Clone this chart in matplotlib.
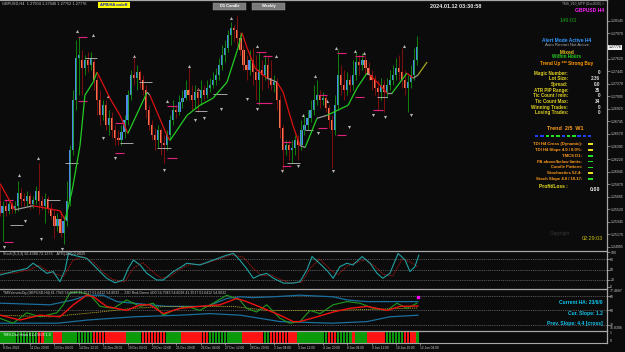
import matplotlib
matplotlib.use("Agg")
import matplotlib.pyplot as plt
import numpy as np
from matplotlib.collections import LineCollection
from matplotlib.patches import Rectangle

W, H = 625, 352
BG = "#0b0b0b"
GRID = "#a8a8a8"
TXT = "#c8c8c8"
BULL, BEAR = "#4a8ce6", "#f07650"
WICK_UP, WICK_DN = "#10a010", "#a01010"
PINK = "#e0207a"

# --- price bars (H4 bar index 1..138) ---
bars = np.arange(1, 139)
opens = [
    1.2564, 1.2547, 1.2557, 1.2550, 1.2560, 1.2553, 1.2556, 1.2575, 1.2567, 1.2564,
    1.2570, 1.2560, 1.2565, 1.2578, 1.2564, 1.2557, 1.2567, 1.2553, 1.2543, 1.2529,
    1.2539, 1.2519, 1.2536, 1.2564, 1.2634, 1.2704, 1.2763, 1.2760, 1.2749, 1.2760,
    1.2753, 1.2757, 1.2732, 1.2704, 1.2683, 1.2697, 1.2669, 1.2679, 1.2662, 1.2651,
    1.2648, 1.2659, 1.2676, 1.2711, 1.2739, 1.2735, 1.2743, 1.2732, 1.2718, 1.2690,
    1.2669, 1.2655, 1.2648, 1.2662, 1.2645, 1.2641, 1.2655, 1.2676, 1.2690, 1.2687,
    1.2701, 1.2707, 1.2718, 1.2711, 1.2704, 1.2715, 1.2707, 1.2718, 1.2711, 1.2721,
    1.2725, 1.2732, 1.2739, 1.2753, 1.2767, 1.2777, 1.2795, 1.2805, 1.2802, 1.2791,
    1.2774, 1.2753, 1.2746, 1.2760, 1.2743, 1.2732, 1.2746, 1.2739, 1.2753, 1.2735,
    1.2725, 1.2729, 1.2704, 1.2665, 1.2634, 1.2641, 1.2634, 1.2637, 1.2648, 1.2641,
    1.2662, 1.2669, 1.2679, 1.2690, 1.2704, 1.2711, 1.2704, 1.2707, 1.2693, 1.2676,
    1.2662, 1.2697, 1.2739, 1.2725, 1.2718, 1.2732, 1.2725, 1.2739, 1.2757, 1.2753,
    1.2760, 1.2749, 1.2739, 1.2732, 1.2721, 1.2715, 1.2725, 1.2715, 1.2725, 1.2732,
    1.2739, 1.2749, 1.2743, 1.2732, 1.2721, 1.2729, 1.2739, 1.2760,
]
highs = [
    1.2585, 1.2564, 1.2567, 1.2564, 1.2563, 1.2564, 1.2592, 1.2581, 1.2575, 1.2578,
    1.2574, 1.2571, 1.2585, 1.2616, 1.2571, 1.2575, 1.2571, 1.2561, 1.2553, 1.2547,
    1.2550, 1.2543, 1.2592, 1.2641, 1.2718, 1.2788, 1.2792, 1.2774, 1.2767, 1.2771,
    1.2771, 1.2763, 1.2739, 1.2718, 1.2704, 1.2704, 1.2690, 1.2687, 1.2669, 1.2662,
    1.2669, 1.2683, 1.2718, 1.2746, 1.2764, 1.2753, 1.2746, 1.2739, 1.2725, 1.2697,
    1.2676, 1.2665, 1.2669, 1.2665, 1.2655, 1.2662, 1.2683, 1.2704, 1.2697, 1.2711,
    1.2718, 1.2732, 1.2749, 1.2725, 1.2725, 1.2721, 1.2732, 1.2725, 1.2732, 1.2735,
    1.2743, 1.2749, 1.2763, 1.2781, 1.2788, 1.2802, 1.2813, 1.2809, 1.2823, 1.2799,
    1.2781, 1.2767, 1.2774, 1.2777, 1.2767, 1.2771, 1.2760, 1.2767, 1.2767, 1.2760,
    1.2739, 1.2735, 1.2711, 1.2669, 1.2648, 1.2648, 1.2648, 1.2655, 1.2655, 1.2676,
    1.2683, 1.2690, 1.2704, 1.2725, 1.2732, 1.2718, 1.2715, 1.2711, 1.2697, 1.2683,
    1.2711, 1.2774, 1.2753, 1.2746, 1.2743, 1.2739, 1.2760, 1.2771, 1.2767, 1.2770,
    1.2767, 1.2757, 1.2746, 1.2739, 1.2732, 1.2735, 1.2732, 1.2735, 1.2746, 1.2753,
    1.2763, 1.2767, 1.2777, 1.2746, 1.2739, 1.2753, 1.2777, 1.2794,
]
lows = [
    1.2543, 1.2508, 1.2543, 1.2546, 1.2547, 1.2547, 1.2550, 1.2557, 1.2556, 1.2557,
    1.2553, 1.2554, 1.2560, 1.2546, 1.2551, 1.2533, 1.2547, 1.2539, 1.2512, 1.2522,
    1.2514, 1.2504, 1.2529, 1.2557, 1.2627, 1.2690, 1.2711, 1.2711, 1.2739, 1.2743,
    1.2746, 1.2718, 1.2683, 1.2669, 1.2676, 1.2662, 1.2655, 1.2651, 1.2641, 1.2641,
    1.2641, 1.2651, 1.2669, 1.2704, 1.2725, 1.2718, 1.2721, 1.2711, 1.2679, 1.2662,
    1.2648, 1.2634, 1.2637, 1.2627, 1.2616, 1.2634, 1.2648, 1.2669, 1.2679, 1.2683,
    1.2693, 1.2704, 1.2704, 1.2690, 1.2693, 1.2687, 1.2697, 1.2704, 1.2707, 1.2715,
    1.2721, 1.2725, 1.2732, 1.2746, 1.2757, 1.2771, 1.2781, 1.2785, 1.2781, 1.2767,
    1.2746, 1.2732, 1.2739, 1.2725, 1.2704, 1.2697, 1.2718, 1.2732, 1.2721, 1.2718,
    1.2715, 1.2690, 1.2651, 1.2607, 1.2627, 1.2620, 1.2617, 1.2627, 1.2620, 1.2634,
    1.2655, 1.2662, 1.2673, 1.2683, 1.2697, 1.2693, 1.2697, 1.2687, 1.2665, 1.2610,
    1.2655, 1.2690, 1.2711, 1.2704, 1.2711, 1.2715, 1.2718, 1.2732, 1.2739, 1.2746,
    1.2739, 1.2732, 1.2718, 1.2711, 1.2690, 1.2704, 1.2687, 1.2707, 1.2718, 1.2725,
    1.2732, 1.2732, 1.2721, 1.2711, 1.2687, 1.2721, 1.2732, 1.2753,
]
closes = [
    1.2547, 1.2557, 1.2550, 1.2560, 1.2553, 1.2556, 1.2575, 1.2567, 1.2564, 1.2570,
    1.2560, 1.2565, 1.2578, 1.2564, 1.2557, 1.2567, 1.2553, 1.2543, 1.2529, 1.2539,
    1.2519, 1.2536, 1.2564, 1.2634, 1.2704, 1.2763, 1.2767, 1.2749, 1.2760, 1.2753,
    1.2763, 1.2732, 1.2704, 1.2683, 1.2697, 1.2669, 1.2679, 1.2662, 1.2651, 1.2648,
    1.2659, 1.2676, 1.2711, 1.2739, 1.2735, 1.2743, 1.2732, 1.2718, 1.2690, 1.2669,
    1.2655, 1.2648, 1.2662, 1.2645, 1.2641, 1.2655, 1.2676, 1.2690, 1.2687, 1.2701,
    1.2707, 1.2718, 1.2711, 1.2704, 1.2715, 1.2707, 1.2718, 1.2711, 1.2721, 1.2725,
    1.2732, 1.2739, 1.2753, 1.2767, 1.2777, 1.2795, 1.2805, 1.2802, 1.2791, 1.2774,
    1.2753, 1.2746, 1.2760, 1.2743, 1.2732, 1.2746, 1.2739, 1.2753, 1.2735, 1.2725,
    1.2729, 1.2704, 1.2665, 1.2634, 1.2641, 1.2634, 1.2637, 1.2648, 1.2641, 1.2662,
    1.2669, 1.2679, 1.2690, 1.2704, 1.2711, 1.2704, 1.2707, 1.2693, 1.2676, 1.2662,
    1.2697, 1.2739, 1.2725, 1.2718, 1.2732, 1.2725, 1.2739, 1.2757, 1.2753, 1.2760,
    1.2749, 1.2739, 1.2732, 1.2721, 1.2715, 1.2725, 1.2715, 1.2725, 1.2732, 1.2739,
    1.2749, 1.2743, 1.2732, 1.2721, 1.2729, 1.2739, 1.2760, 1.2778,
]

# trend line (bar index, price)
ma_idx = [1.2, 6, 12, 20.8, 22.5, 24.8, 27.4, 29, 31.7, 33, 37.2, 40.5, 43.1, 49.4, 50.3,
          55.9, 56.9, 62.5, 66.7, 71, 75.6, 79.2, 80.5, 82.2, 84.8, 88.7, 92, 94, 97.2,
          99.5, 101.2, 105.1, 108.4, 115.3, 118.2, 121.5, 122.5, 125.8, 128, 129.7, 134.6,
          136.6, 138.2]
ma_val = [1.25877, 1.25513, 1.25569, 1.25499, 1.25373, 1.25779, 1.26409, 1.27109, 1.27291,
          1.27431, 1.27067, 1.26829, 1.26577, 1.27151, 1.27109, 1.26549, 1.26479, 1.26829,
          1.26969, 1.27067, 1.27291, 1.27767, 1.27977, 1.27767, 1.27487, 1.27347, 1.27291,
          1.27151, 1.26689, 1.26409, 1.26381, 1.26787, 1.26829, 1.26969, 1.27207, 1.27417,
          1.27389, 1.27249, 1.27137, 1.27137, 1.27417, 1.27347, 1.27389]
ma_ext = (141.2, 1.27571)

# fractal arrows
up_idx = [7.5, 13.5, 26.5, 31.5, 36.5, 45, 56, 63, 66, 77, 85.5, 91.5, 100.5, 104.5, 108.5,
          111.5, 117.5, 120.5, 133.5]
up_px = [1.2598, 1.2622, 1.2798, 1.2793, 1.2708, 1.2764, 1.2701, 1.2749, 1.2718, 1.2816,
         1.2777, 1.2764, 1.2682, 1.2735, 1.2701, 1.2775, 1.2771, 1.2768, 1.2778]
dn_idx = [2.5, 9.5, 14.5, 21.5, 35, 39, 55, 65, 68, 73.5, 82, 85.5, 93.5, 99, 105.5, 110.5,
          115.5, 123.5, 127.5, 136]
dn_px = [1.2502, 1.2537, 1.2513, 1.2499, 1.2653, 1.2626, 1.2609, 1.2679, 1.2681, 1.2693,
         1.2708, 1.2694, 1.2608, 1.2614, 1.2660, 1.2608, 1.2669, 1.2685, 1.2682, 1.2686]

# swing levels (start, end, price)
pink_lv = [(2.5, 5.4, 1.2565), (2.5, 5.4, 1.2506), (26.7, 29.7, 1.2792), (26.7, 29.7, 1.2703),
           (38.9, 41.8, 1.2672), (38.9, 41.8, 1.2630), (55.9, 59.2, 1.2696), (55.9, 59.2, 1.2623),
           (85.1, 88.4, 1.2771), (87.4, 90.3, 1.2765), (85.1, 90.3, 1.2700), (93.6, 96.6, 1.2646),
           (93.6, 96.6, 1.2612), (105.4, 108.4, 1.2711), (105.4, 108.4, 1.2665),
           (111.7, 114.6, 1.2770), (111.7, 114.6, 1.2655), (117.6, 120.5, 1.2765),
           (117.6, 120.5, 1.2708), (123.5, 126.7, 1.2690)]
gray_lv = [(29, 33, 1.2763), (40.5, 44.8, 1.2644), (46.7, 51, 1.2729), (65.1, 69, 1.2689),
           (71, 75.6, 1.2713), (4.4, 8.7, 1.2530), (16.5, 20.8, 1.2565), (22.5, 26.7, 1.2616),
           (52.6, 57.2, 1.2637), (95.3, 99.5, 1.2616), (101.2, 103.8, 1.2662),
           (124.8, 128, 1.2708)]

price_ticks = [1.28145, 1.27970, 1.27620, 1.27445, 1.27270, 1.27095, 1.26920, 1.26745,
               1.26570, 1.26395, 1.26220, 1.26045, 1.25870, 1.25695, 1.25520, 1.25345,
               1.25170, 1.24995]
last_price = 1.27776

# stochastic (bar index, value)
k_idx = [1, 5.5, 10, 12, 13.7, 16.5, 18.6, 20.8, 22.5, 23.6, 25.2, 29.6, 32.9, 36.1, 38.9,
         41.6, 43.2, 44.9, 47.1, 49.3, 52.5, 54.7, 58, 60.7, 62.4, 66.7, 71.1, 75.5, 77.7,
         79.8, 82, 84.2, 86.4, 88.6, 90.8, 94.1, 97.3, 99.5, 101.8, 103.5, 105.4, 107.1,
         108.7, 110.4, 112.6, 114.9, 116.9, 119.9, 122.5, 124.8, 126.7, 129, 131.7, 134,
         135.6, 137.2, 138.5]
k_val = [34, 44, 53, 68, 58, 39, 44, 15, 49, 96, 91, 82, 53, 25, 12, 20, 53, 77, 63, 39, 20,
         20, 44, 58, 68, 63, 77, 91, 96, 77, 53, 25, 34, 39, 25, 11, 11, 15, 49, 87, 72, 58,
         44, 25, 58, 68, 63, 87, 68, 39, 25, 39, 96, 77, 44, 58, 91]
d_idx = [1, 6, 11, 14, 17, 20, 22, 25, 28, 32, 35, 38, 42, 45, 48, 51, 54, 57, 60, 63, 68,
         73, 77, 81, 84, 87, 90, 93, 96, 100, 103, 106, 108, 110, 112, 115, 118, 121, 124,
         127, 130, 133, 136, 138]
d_val = [40, 40, 50, 62, 45, 35, 30, 75, 88, 70, 42, 22, 15, 55, 70, 45, 25, 30, 50, 63, 66,
         80, 92, 85, 55, 32, 35, 22, 12, 13, 55, 80, 62, 45, 35, 60, 70, 78, 60, 35, 32, 80,
         70, 58]

# TMS / TDI panel (bar index, value)
red_idx = [1.2, 7.7, 14.3, 20.8, 25.2, 29.6, 31.8, 36.1, 42.7, 47.1, 50.3, 54.7, 60.2, 66.7,
           73.3, 78.8, 82, 87.5, 93, 97.3, 99.5, 105.1, 110.4, 115.9, 121.5, 128.1, 132.3,
           138.2]
red_val = [44, 38, 44, 42, 57, 69, 67, 55, 50, 57, 57, 46, 52.6, 55, 57, 65, 61, 52.6, 44, 36,
           36, 42, 48, 52.6, 55, 50, 55, 55.5]
grn_idx = [1.2, 5.5, 9.9, 14.3, 19.8, 21.9, 24.1, 27.4, 30.7, 34, 38.3, 42.7, 47.1, 51.4,
           54.7, 58, 62.4, 66.7, 71.1, 75.5, 79.8, 82, 85.3, 88.6, 93, 96.2, 99.5, 102.8,
           106.1, 110.4, 114.9, 119.2, 123.5, 128.1, 131.3, 134.6, 137.9]
grn_val = [40, 34, 47, 42, 47, 57, 72, 73, 69, 55, 52.6, 63, 55, 59, 44, 50, 55, 50, 59, 69,
           63, 52.6, 48, 57, 40, 34, 36, 50, 46, 57, 61, 59, 52.6, 50, 59, 52.6, 59]
upb_idx = [1.2, 17.6, 25, 30, 35, 39.5, 44.8, 50.3, 55.9, 69, 75.6, 79.8, 84, 90.7, 99.5,
           110.4, 115, 121.5, 131, 138.2]
upb_val = [59, 57, 63, 69, 69, 61, 59, 57, 55, 55, 65, 67, 66, 67, 69, 67, 63, 61, 61, 61]
lob_idx = [1.2, 20, 30, 45, 60, 70, 80, 93, 110, 121.5, 129, 138.2]
lob_val = [34, 34, 38, 42, 44, 46, 44, 36, 34, 36, 42, 44]
base_idx = [1.2, 17.5, 34, 44.8, 55.9, 66.7, 77.6, 88.7, 99.5, 110.4, 138.2]
base_val = [44, 42, 48, 52.6, 55, 55, 55, 50, 50, 50, 53]

# Heiken Ashi histogram runs (length, colour), bars 1..138
hist_len = [13, 2, 3, 3, 10, 11, 5, 8, 5, 9, 11, 7, 2, 9, 10, 3, 5, 1, 4, 6, 6, 4, 1]
hist_col = ["g", "r", "g", "r", "g", "r", "g", "r", "g", "r", "g", "r", "g", "r", "g", "r",
            "g", "r", "g", "r", "g", "r", "g"]

time_idx = [2, 11, 19, 27, 35, 43, 51, 59, 67, 75, 83, 91, 99, 107, 115, 123, 131, 139]
time_lab = ["8 Dec 2023", "11 Dec 20:00", "13 Dec 04:00", "14 Dec 12:00", "15 Dec 20:00",
            "19 Dec 04:00", "20 Dec 12:00", "21 Dec 20:00", "26 Dec 04:00", "27 Dec 12:00",
            "28 Dec 20:00", "2 Jan 04:00", "3 Jan 12:00", "4 Jan 20:00", "8 Jan 04:00",
            "9 Jan 12:00", "10 Jan 20:00", "12 Jan 04:00"]

plt.rcParams["font.family"] = ["Liberation Sans", "DejaVu Sans"]
fig = plt.figure(figsize=(W / 100, H / 100), dpi=100, facecolor=BG)

RIGHT = 607
AXFS = 2.5


def panel(top, bottom):
    ax = fig.add_axes([0, 1 - bottom / H, RIGHT / W, (bottom - top) / H])
    ax.set_facecolor(BG)
    for s in ("left", "bottom"):
        ax.spines[s].set_visible(False)
    for s in ("top", "right"):
        ax.spines[s].set_color(GRID)
        ax.spines[s].set_linewidth(0.9)
    ax.set_xlim(1.16, 200.2)
    ax.set_xticks([])
    ax.yaxis.tick_right()
    ax.tick_params(axis="y", colors=GRID, labelcolor=TXT, labelsize=AXFS, length=1.8, width=0.5,
                   pad=0.6)
    return ax


def ftxt(x, y, s, **kw):
    kw.setdefault("va", "center")
    fig.text(x / W, 1 - y / H, s, **kw)


# ---------- main price panel ----------
ax = panel(0, 250)
ax.set_ylim(1.24953, 1.28435)
o, h, l, c = map(np.asarray, (opens, highs, lows, closes))
up = c >= o
ax.vlines(bars, l, h, colors=np.where(up, WICK_UP, WICK_DN), lw=0.55)
ax.bar(bars, np.maximum(np.abs(c - o), 0.00006), bottom=np.minimum(o, c), width=0.72,
       color=np.where(up, BULL, BEAR), lw=0)

for a, b, p in gray_lv:
    ax.hlines(p, a, b, color="#bdbdbd", lw=0.6)
for a, b, p in pink_lv:
    ax.hlines(p, a, b, color=PINK, lw=0.8)

segs, cols = [], []
for i in range(len(ma_idx) - 1):
    segs.append([(ma_idx[i], ma_val[i]), (ma_idx[i + 1], ma_val[i + 1])])
    d = ma_val[i + 1] - ma_val[i]
    cols.append("#9a9a9a" if abs(d) < 0.0006 else ("#22cc22" if d > 0 else "#dd1111"))
segs.append([(ma_idx[-1], ma_val[-1]), ma_ext])
cols.append("#a8a820")
ax.add_collection(LineCollection(segs, colors=cols, lw=0.9))

ax.scatter(up_idx, np.array(up_px) + 0.0002, marker="^", s=5, color="#b5b5b5", lw=0)
ax.scatter(dn_idx, np.array(dn_px) - 0.0002, marker="v", s=5, color="#b5b5b5", lw=0)

ax.set_yticks(price_ticks)
ax.set_yticklabels([f"{p:.5f}" for p in price_ticks])
ax.text(1.003, last_price, f"{last_price:.5f}", transform=ax.get_yaxis_transform(), fontsize=AXFS,
        color="black", va="center", ha="left",
        bbox=dict(boxstyle="square,pad=0.15", fc="#f0f0f0", ec="none"))

# ---------- stochastic ----------
ax2 = panel(251, 288)
ax2.set_ylim(-2.9, 102.9)
for lv in (80, 50, 20):
    ax2.axhline(lv, color="#8a8a8a", lw=0.45, ls=(0, (1.5, 1.5)))
ax2.plot(d_idx, d_val, color="#c01818", lw=0.6, ls=(0, (1.5, 1)))
ax2.plot(k_idx, k_val, color="#1fa0a0", lw=0.8)
ax2.set_yticks([100, 80, 50, 20, 0])
ax2.set_yticklabels(["100", "80", "50", "20", "0"])

# ---------- TMS ----------
ax3 = panel(289, 330)
ax3.set_ylim(25.5, 76.75)
for lv in (68, 50, 32):
    ax3.axhline(lv, color="#8a8a8a", lw=0.45, ls=(0, (1.5, 1.5)))
ax3.plot(upb_idx, upb_val, color="#1a6f9c", lw=0.9)
ax3.plot(lob_idx, lob_val, color="#1a6f9c", lw=0.9)
ax3.plot(base_idx, base_val, color="#b0a020", lw=0.6, ls=(0, (1.5, 1)))
ax3.plot(grn_idx, grn_val, color="#1f9a1f", lw=0.8)
ax3.plot(red_idx, red_val, color="#ee1111", lw=1.0)
ax3.plot([138.2], [67], marker="s", ms=1.5, color="#ff00ff")
ax3.set_yticks([68, 50, 32])
ax3.set_yticklabels(["68", "50", "32"])

# ---------- HA histogram ----------
ax4 = panel(331, 343)
ax4.set_ylim(0, 1)
ax4.set_yticks([])
pos = 1
for n, col in zip(hist_len, hist_col):
    ax4.bar(np.arange(pos, pos + n), 1, width=0.85, color="#0a9a0a" if col == "g" else "#ff1212", lw=0)
    pos += n
ax4.spines["bottom"].set_visible(True)
ax4.spines["bottom"].set_color(GRID)
ax4.set_xticks(time_idx)
ax4.set_xticklabels(time_lab)
ax4.tick_params(axis="x", colors=GRID, labelcolor=TXT, labelsize=2.3, length=1.5, width=0.5, pad=1)
for t in ax4.get_xticklabels():
    t.set_ha("left")

# ---------- texts ----------
ftxt(2, 4, "GBPUSD,H4  1.27904 1.27940 1.27752 1.27776", color=TXT, fontsize=2.8)
fig.patches.append(Rectangle((98 / W, 1 - 8 / H), 32 / W, 6 / H, transform=fig.transFigure,
                             fc="#ffff00", ec="none"))
ftxt(114, 5, "APB/HA on/off", color="#1020c0", fontsize=2.9, ha="center", weight="bold")
for x0, lab in ((213, "D1 Candle"), (252, "Weekly")):
    fig.patches.append(Rectangle((x0 / W, 1 - 9.5 / H), 33 / W, 6.5 / H, transform=fig.transFigure,
                                 fc="#7a7a7a", ec="#a0a0a0", lw=0.3))
    ftxt(x0 + 16.5, 6.2, lab, color="white", fontsize=2.9, ha="center", weight="bold")
ftxt(456, 6, "2024.01.12 03:30:58", color="#e8e8e8", fontsize=4.0, ha="center", weight="bold")
ftxt(604, 4, "TMS_V10_MTP (Dec2020) \u00a9", color="#b0b0b0", fontsize=2.3, ha="right")
ftxt(604, 10, "GBPUSD H4", color="#ff22ff", fontsize=3.6, ha="right", weight="bold")

ftxt(568, 21, "149:03", color="#20a020", fontsize=4.0, ha="center")
ftxt(567, 40, "Alert Mode Active H4", color="#3399ff", fontsize=3.5, ha="center", weight="bold")
ftxt(567, 45.5, "Auto Restart Not Active", color="#a8a8a8", fontsize=3.1, ha="center")
ftxt(567, 51.5, "_Mixed_", color="#e0c020", fontsize=3.5, ha="center", weight="bold")
ftxt(567, 57, "Within Hours", color="#22cc22", fontsize=3.3, ha="center", weight="bold")
ftxt(567, 63, "Trend Up *** Strong Buy", color="#ff9900", fontsize=3.3, ha="center", weight="bold")

info_lab = ["Magic Number:", "Lot Size:", "Spread:", "ATR PIP Range:", "Tic Count / min:",
            "Tic Count Max:", "Winning Trades:", "Losing Trades:"]
info_val = ["0", "2.36", "0.0", "35", "0", "34", "0", "0"]
for k, (lab, val) in enumerate(zip(info_lab, info_val)):
    yy = 73 + k * 5.7
    ftxt(568, yy, lab, color="#e0d020", fontsize=3.3, ha="right", weight="bold")
    ftxt(600, yy, val, color="#e0e0e0", fontsize=3.3, ha="right", weight="bold")

ftxt(565, 129, "Trend  2/5  W1", color="#ffa020", fontsize=3.9, ha="center", weight="bold")
dash_cols = ["#2040ff", "#2040ff", "#20e020", "#20e020", "#20e020", "#2040ff", "#20e020",
             "#20e020", "#2040ff", "#2040ff", "#2040ff"]
for k, dc in enumerate(dash_cols):
    fig.patches.append(Rectangle(((535 + k * 5.3) / W, 1 - 137 / H), 3.4 / W, 1.6 / H,
                                 transform=fig.transFigure, fc=dc, ec="none"))
sig_lab = ["TDI H4 Cross (Dynamic):", "TDI H4 Slope 4.0 / 8.0%:", "TMCS D1:",
           "PA above/below limits:", "Candle Pattern:", "Stochastics 52.4:",
           "Stoch Slope 4.0 / 10.17:"]
sig_col = ["#e8e020", "#e8e020", "#20e020", "#20e020", "#20e020", "#e8e020", "#20e020"]
for k, (lab, sc) in enumerate(zip(sig_lab, sig_col)):
    yy = 144 + k * 5.85
    ftxt(582, yy, lab, color="#ff9a1a", fontsize=3.1, ha="right", weight="bold")
    fig.patches.append(Rectangle((588 / W, 1 - (yy + 0.9) / H), 4.5 / W, 1.8 / H,
                                 transform=fig.transFigure, fc=sc, ec="none"))
ftxt(568, 187, "Profit/Loss :", color="#e8e020", fontsize=3.5, ha="right", weight="bold")
ftxt(600, 189, "0.00", color="#f0f0f0", fontsize=3.9, ha="right", weight="bold")
ftxt(560, 234, "Copyright", color="#3a3a3a", fontsize=3.3, ha="center")
ftxt(603, 238, "02:29:03", color="#c8c010", fontsize=3.9, ha="right")

ftxt(3, 254.5, "Stoch(5,3,3) 92.4388 72.1375    ATR(100) 0.0025", color=TXT, fontsize=2.7)
ftxt(3, 293, "TMSVeneticDg (GBPUSD,H4) 61.7943 54.6028 41.3517 61.6412 54.8032 ... 23D Red-Green #D0 "
     "54.7943 54.6028 41.3517 61.6412 54.8032", color=TXT, fontsize=2.5)
ftxt(609.5, 291.5, "77.4687", color=TXT, fontsize=AXFS)
ftxt(609.5, 328, "15.8306", color=TXT, fontsize=AXFS)
ftxt(603, 303, "Current HA: 23/6/0", color="#10c8f0", fontsize=3.6, ha="right", weight="bold")
ftxt(603, 313, "Cur. Slope: 1.2", color="#10c8f0", fontsize=3.6, ha="right", weight="bold")
ftxt(603, 323, "Prev. Slope: 4.4 [cross]", color="#10c8f0", fontsize=3.6, ha="right", weight="bold")
ftxt(3, 334.5, "TMS-Dsc Histo 61.4 56.8 1.0", color="white", fontsize=2.7)
ftxt(610, 333.5, "1", color=TXT, fontsize=AXFS)
ftxt(610, 341, "0", color=TXT, fontsize=AXFS)

fig.savefig("out.png", dpi=100, facecolor=BG)
